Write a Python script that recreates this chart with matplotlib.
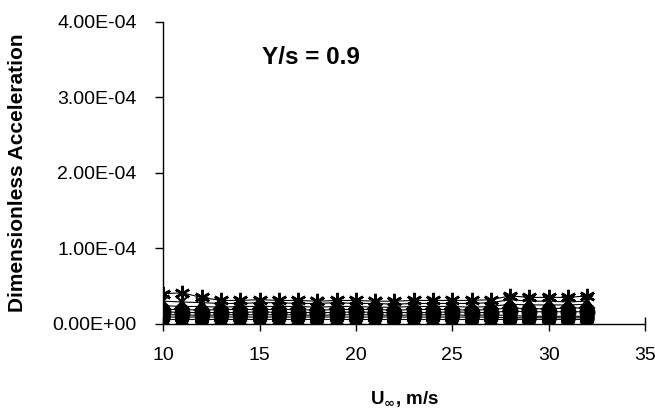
import matplotlib
matplotlib.use('Agg')
import matplotlib.pyplot as plt
import numpy as np

plt.rcParams['font.family'] = ['Liberation Sans', 'DejaVu Sans']

# free-stream velocity, m/s
u_inf = list(range(10, 33))

# dimensionless acceleration for each run (x 1e-5)
star_run = [4.0, 4.1, 3.5, 3.1, 3.1, 3.2, 3.1, 3.1, 3.0, 3.1, 3.1, 3.0, 3.0, 3.1,
            3.1, 3.1, 3.1, 3.2, 3.7, 3.5, 3.5, 3.5, 3.7]
cross_run = [3.0, 2.9, 2.8, 2.7, 2.7, 2.8, 2.8, 2.7, 2.7, 2.8, 2.7, 2.7, 2.6, 2.7,
             2.7, 2.7, 2.7, 2.8, 3.2, 3.0, 3.0, 2.9, 3.0]
tri_run = [2.4, 2.3, 2.3, 2.2, 2.3, 2.3, 2.3, 2.3, 2.2, 2.3, 2.3, 2.2, 2.2, 2.3,
           2.3, 2.3, 2.2, 2.3, 2.6, 2.5, 2.5, 2.5, 2.6]
diamond_run = [1.9, 1.9, 1.8, 1.9, 1.9, 1.9, 1.9, 1.9, 1.8, 1.9, 1.9, 1.9, 1.8, 1.9,
               1.9, 1.9, 1.8, 1.9, 2.1, 2.0, 2.0, 2.1, 2.1]
circle_run = [1.6, 1.5, 1.5, 1.5, 1.5, 1.6, 1.5, 1.5, 1.5, 1.5, 1.6, 1.5, 1.5, 1.5,
              1.5, 1.6, 1.5, 1.5, 1.7, 1.6, 1.6, 1.6, 1.6]
square_run = [1.2, 1.2, 1.1, 1.2, 1.2, 1.2, 1.2, 1.2, 1.1, 1.2, 1.2, 1.2, 1.1, 1.2,
              1.2, 1.2, 1.1, 1.2, 1.1, 1.0, 1.0, 1.0, 1.0]
dot_run = [0.9, 0.9, 0.9, 0.9, 0.9, 0.9, 0.9, 0.9, 0.9, 0.9, 0.9, 0.9, 0.9, 0.9,
           0.9, 0.9, 0.9, 0.9, 0.8, 0.8, 0.8, 0.8, 0.8]
low_run = [0.6, 0.6, 0.6, 0.6, 0.6, 0.6, 0.6, 0.6, 0.6, 0.6, 0.6, 0.6, 0.6, 0.6,
           0.6, 0.6, 0.6, 0.6, 0.6, 0.6, 0.6, 0.6, 0.6]

runs = [
    (low_run, '^', 8),
    (dot_run, 'o', 9),
    (square_run, 's', 8),
    (circle_run, 'o', 10),
    (diamond_run, 'D', 7),
    (tri_run, '^', 8),
    (cross_run, 'x', 8),
    (star_run, '*', 11),
]

fig = plt.figure(figsize=(6.55, 4.12), dpi=100)
ax = fig.add_axes([0.249, 0.214, 0.736, 0.733])

for vals, mk, ms in runs:
    y = np.array(vals) * 1e-5
    if mk == '*':
        # asterisk-style star
        ax.plot(u_inf, y, color='black', linewidth=0.8, marker=(6, 2, 0),
                markersize=ms, markeredgewidth=1.8)
    else:
        ax.plot(u_inf, y, color='black', linewidth=0.8, marker=mk,
                markersize=ms, markerfacecolor='black', markeredgecolor='black',
                markeredgewidth=1.5)

ax.set_xlim(10, 35)
ax.set_ylim(0, 4e-4)
ax.set_xticks([10, 15, 20, 25, 30, 35])
ax.set_yticks([0, 1e-4, 2e-4, 3e-4, 4e-4])
ax.set_yticklabels(['0.00E+00', '1.00E-04', '2.00E-04', '3.00E-04', '4.00E-04'])

for side in ['top', 'right']:
    ax.spines[side].set_visible(False)
for side in ['left', 'bottom']:
    ax.spines[side].set_linewidth(1.0)
    ax.spines[side].set_color('black')

ax.tick_params(axis='x', direction='inout', length=10, width=1.0, labelsize=14, pad=12)
ax.tick_params(axis='y', direction='out', length=6, width=1.0, labelsize=14, pad=13)

ax.set_ylabel('Dimensionless Acceleration', fontsize=15, fontweight='bold', labelpad=18)
ax.set_xlabel(r'U$_{\mathbf{\infty}}$, m/s', fontsize=13.5, fontweight='bold', labelpad=18)

fig.text(262 / 655, 1 - 57 / 412, 'Y/s = 0.9', fontsize=17.5, fontweight='bold',
         ha='left', va='center')

fig.savefig('out.png', dpi=100, facecolor='white')
